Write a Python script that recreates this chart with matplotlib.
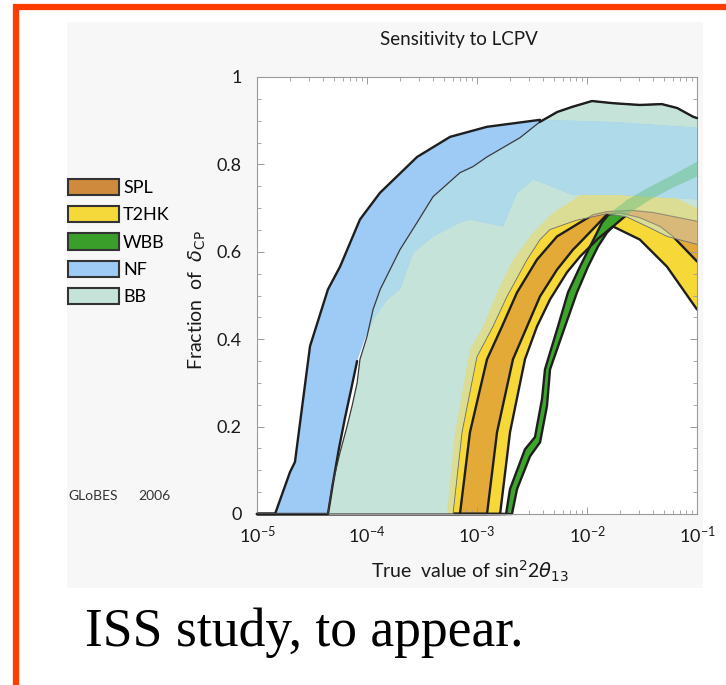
import numpy as np
import matplotlib
matplotlib.use('Agg')
import matplotlib.pyplot as plt
from matplotlib.patches import Polygon, Rectangle, Patch
from matplotlib.ticker import MultipleLocator, FuncFormatter

plt.rcParams['font.family'] = ['Lato', 'DejaVu Sans']
plt.rcParams['mathtext.fontset'] = 'dejavusans'

# band edges: log10(sin^2 2theta13) and fraction of delta_CP
nf_hi_lx = np.array([-5.0, -4.836, -4.70, -4.655, -4.518, -4.355, -4.245, -4.064, -3.882,
                     -3.545, -3.245, -2.91, -2.427, -1.76, -1.0])
nf_hi_f = np.array([0, 0, 0.096, 0.119, 0.384, 0.514, 0.566, 0.674, 0.735,
                    0.817, 0.863, 0.886, 0.902, 0.897, 0.884])
nf_lo_lx = np.array([-5.0, -4.355, -4.31, -4.255, -4.20, -4.14, -4.09, -4.02, -3.93, -3.82,
                     -3.70, -3.58, -3.40, -3.155, -3.064, -2.764, -2.636, -2.49, -2.427,
                     -2.127, -1.70, -1.0])
nf_lo_f = np.array([0, 0, 0.07, 0.15, 0.22, 0.29, 0.35, 0.40, 0.45, 0.49,
                    0.514, 0.598, 0.635, 0.667, 0.674, 0.658, 0.735, 0.765, 0.76,
                    0.73, 0.73, 0.72])

bb_hi_lx = np.array([-5.0, -4.355, -4.318, -4.245, -4.182, -4.136, -4.09, -4.064, -4.0,
                     -3.945, -3.88, -3.70, -3.545, -3.40, -3.155, -3.036, -2.91, -2.61,
                     -2.43, -2.27, -2.13, -1.955, -1.76, -1.52, -1.32, -1.18, -1.035, -1.0])
bb_hi_f = np.array([0, 0, 0.064, 0.141, 0.20, 0.247, 0.30, 0.354, 0.406,
                    0.468, 0.514, 0.605, 0.667, 0.726, 0.781, 0.795, 0.817, 0.861,
                    0.897, 0.92, 0.932, 0.945, 0.94, 0.936, 0.938, 0.929, 0.909, 0.906])
bb_lo_lx = np.array([-5.0, -3.218, -3.136, -3.0, -2.855, -2.727, -2.545, -2.427, -2.336,
                     -2.10, -1.82, -1.64, -1.43, -1.27, -1.0])
bb_lo_f = np.array([0, 0, 0.187, 0.36, 0.429, 0.498, 0.582, 0.628, 0.651,
                    0.672, 0.687, 0.68, 0.655, 0.635, 0.617])

t2hk_hi_lx = np.array([-5.0, -3.273, -3.2, -3.064, -2.945, -2.818, -2.673, -2.49, -2.31,
                       -2.127, -2.0, -1.818, -1.58, -1.336, -1.127, -1.0])
t2hk_hi_f = np.array([0, 0, 0.187, 0.377, 0.429, 0.507, 0.582, 0.644, 0.689,
                      0.719, 0.742, 0.76, 0.76, 0.742, 0.715, 0.70])
t2hk_lo_lx = np.array([-5.0, -2.79, -2.70, -2.564, -2.455, -2.336, -2.182, -2.064, -1.9,
                       -1.764, -1.52, -1.273, -1.0])
t2hk_lo_f = np.array([0, 0, 0.187, 0.354, 0.429, 0.491, 0.553, 0.589, 0.63,
                      0.658, 0.628, 0.566, 0.468])

spl_hi_lx = np.array([-5.0, -3.155, -3.064, -2.909, -2.773, -2.636, -2.455, -2.273, -2.064,
                      -1.945, -1.82, -1.6, -1.4, -1.2, -1.0])
spl_hi_f = np.array([0, 0, 0.187, 0.354, 0.429, 0.507, 0.582, 0.635, 0.667,
                     0.685, 0.692, 0.695, 0.69, 0.68, 0.67])
spl_lo_lx = np.array([-5.0, -2.909, -2.818, -2.673, -2.545, -2.427, -2.273, -2.127, -2.064,
                      -1.82, -1.70, -1.52, -1.336, -1.218, -1.0])
spl_lo_f = np.array([0, 0, 0.187, 0.354, 0.429, 0.498, 0.559, 0.605, 0.621,
                     0.685, 0.689, 0.678, 0.658, 0.635, 0.578])

wbb_hi_lx = np.array([-5.0, -2.736, -2.70, -2.564, -2.473, -2.409, -2.382, -2.264, -2.173,
                      -2.064, -1.973, -1.909, -1.864, -1.791, -1.636, -1.427, -1.218, -1.0])
wbb_hi_f = np.array([0, 0, 0.057, 0.148, 0.176, 0.263, 0.331, 0.429, 0.507,
                     0.566, 0.612, 0.644, 0.667, 0.689, 0.719, 0.749, 0.776, 0.806])
wbb_lo_lx = np.array([-5.0, -2.682, -2.636, -2.518, -2.427, -2.364, -2.336, -2.2, -2.091,
                      -1.991, -1.9, -1.818, -1.745, -1.636, -1.427, -1.218, -1.0])
wbb_lo_f = np.array([0, 0, 0.057, 0.132, 0.164, 0.247, 0.331, 0.429, 0.507,
                     0.566, 0.612, 0.644, 0.662, 0.685, 0.719, 0.747, 0.772])

labels = ['SPL', 'T2HK', 'WBB', 'NF', 'BB']
key_colors = ['#cf8a3e', '#f5d83a', '#3a9e2a', '#9dcbf5', '#c6e3d9']


def band_xy(hi_lx, hi_f, lo_lx, lo_f):
    x = np.concatenate([hi_lx, lo_lx[::-1]])
    y = np.concatenate([hi_f, lo_f[::-1]])
    return np.column_stack([10.0 ** x, y])


fig = plt.figure(figsize=(7.26, 6.85), dpi=100)
W, H = 726.0, 685.0

# light grey slide panel behind the plot
fig.add_artist(Rectangle((67 / W, 1 - 588 / H), 636 / W, 566 / H, transform=fig.transFigure,
                         facecolor='#f7f7f7', edgecolor='none', zorder=-5))

ax = fig.add_axes([257 / W, 1 - 514 / H, 440 / W, 437 / H])
ax.set_facecolor('white')
ax.set_xscale('log')
ax.set_xlim(1e-5, 1e-1)
ax.set_ylim(0, 1)

edge = dict(color='#1e1e1e', lw=1.7, clip_on=False, solid_capstyle='round')

# T2HK, SPL and WBB bands
t2hk_xy = band_xy(t2hk_hi_lx, t2hk_hi_f, t2hk_lo_lx, t2hk_lo_f)
spl_xy = band_xy(spl_hi_lx, spl_hi_f, spl_lo_lx, spl_lo_f)
wbb_xy = band_xy(wbb_hi_lx, wbb_hi_f, wbb_lo_lx, wbb_lo_f)
ax.add_patch(Polygon(t2hk_xy, facecolor='#f6d838', edgecolor='none', zorder=1))
ax.add_patch(Polygon(spl_xy, facecolor='#e3aa38', edgecolor='none', zorder=1.1))
ax.add_patch(Polygon(wbb_xy, facecolor='#3da52b', edgecolor='none', zorder=1.2))
for lx, f in [(t2hk_lo_lx, t2hk_lo_f), (spl_hi_lx, spl_hi_f), (spl_lo_lx, spl_lo_f),
              (wbb_hi_lx, wbb_hi_f), (wbb_lo_lx, wbb_lo_f)]:
    ax.plot(10.0 ** lx, f, zorder=2, **edge)

# BB band, with its own shades where it covers the other bands
bb_xy = band_xy(bb_hi_lx, bb_hi_f, bb_lo_lx, bb_lo_f)
bb_patch = Polygon(bb_xy, facecolor='#c6e3d9', edgecolor='none', zorder=3)
ax.add_patch(bb_patch)
for xy, col in [(t2hk_xy, '#dcdd95'), (spl_xy, '#d9b97a')]:
    p = Polygon(xy, facecolor=col, edgecolor='none', zorder=3.1)
    ax.add_patch(p)
    p.set_clip_path(bb_patch)
for lx, f in [(t2hk_lo_lx, t2hk_lo_f), (spl_hi_lx, spl_hi_f), (spl_lo_lx, spl_lo_f)]:
    ln, = ax.plot(10.0 ** lx, f, color='#666666', lw=0.8, alpha=0.6, zorder=3.5)
    ln.set_clip_path(bb_patch)

# NF band, lighter where it overlaps BB
nf_xy = band_xy(nf_hi_lx, nf_hi_f, nf_lo_lx, nf_lo_f)
ax.add_patch(Polygon(nf_xy, facecolor='#9dcbf5', edgecolor='none', zorder=4))
nf_bb = Polygon(nf_xy, facecolor='#aedaea', edgecolor='none', zorder=4.1)
ax.add_patch(nf_bb)
nf_bb.set_clip_path(bb_patch)

wbb_bb = Polygon(wbb_xy, facecolor='#63bf7a', edgecolor='none', alpha=0.45, zorder=4.2)
ax.add_patch(wbb_bb)
wbb_bb.set_clip_path(bb_patch)

# outlines of the NF and BB bands
outer = nf_hi_lx <= -2.42
ax.plot(10.0 ** nf_hi_lx[outer], nf_hi_f[outer], zorder=6, **edge)
low = nf_lo_lx < -4.05
ax.plot(10.0 ** nf_lo_lx[low], nf_lo_f[low], zorder=6, **edge)
ax.plot(10.0 ** bb_hi_lx, bb_hi_f, color='#3a3a3a', lw=0.9, zorder=6)
top = bb_hi_lx >= -2.44
ax.plot(10.0 ** bb_hi_lx[top], bb_hi_f[top], zorder=6, **edge)
ax.plot(10.0 ** bb_lo_lx, bb_lo_f, color='#6a6a6a', lw=0.6, zorder=6)

# axes styling
for s in ax.spines.values():
    s.set_color('#9a9a9a')
    s.set_linewidth(0.8)
ax.yaxis.set_major_locator(MultipleLocator(0.2))
ax.yaxis.set_minor_locator(MultipleLocator(0.05))
ax.yaxis.set_major_formatter(FuncFormatter(lambda v, p: '%g' % round(v, 1)))
ax.tick_params(which='both', direction='in', top=True, right=True, colors='#9a9a9a',
               labelcolor='#1a1a1a', labelsize=13)
ax.tick_params(which='major', length=5, width=0.7)
ax.tick_params(which='minor', length=3, width=0.6)
ax.tick_params(axis='x', pad=8)
ax.tick_params(axis='y', pad=11)

fig.text(459 / W, 1 - 40 / H, 'Sensitivity to LCPV', ha='center', va='center',
         fontsize=13.5, color='#1a1a1a')
fig.text(470 / W, 1 - 571 / H, r'True  value of sin$^2$2$\theta_{13}$', ha='center',
         va='center', fontsize=14, color='#1a1a1a')
fig.text(197 / W, 1 - 300 / H, r'Fraction  of  $\delta_{\rm CP}$', ha='center',
         va='center', rotation=90, fontsize=14, color='#1a1a1a')
fig.text(68 / W, 1 - 496 / H, 'GLoBES', ha='left', va='center', fontsize=10,
         color='#333333')
fig.text(138 / W, 1 - 496 / H, '2006', ha='left', va='center', fontsize=10,
         color='#333333')

handles = [Patch(facecolor=c, edgecolor='#333333', linewidth=1.5) for c in key_colors]
fig.legend(handles, labels, loc='upper left', bbox_to_anchor=(68 / W, 1 - 179 / H),
           frameon=False, fontsize=13, handlelength=2.8, handleheight=1.0,
           labelspacing=0.55, handletextpad=0.25, borderpad=0, borderaxespad=0)

fig.text(85 / W, 1 - 646 / H, 'ISS study, to appear.', family='Liberation Serif',
         fontsize=38.6, ha='left', va='baseline', color='black')

# orange frame around the slide
fig.add_artist(Rectangle((16 / W, -0.2), 1.5, 1.2 - 7 / H, transform=fig.transFigure,
                         fill=False, edgecolor='#ff3c00', linewidth=4.5, zorder=10))

fig.savefig('out.png', dpi=100)
